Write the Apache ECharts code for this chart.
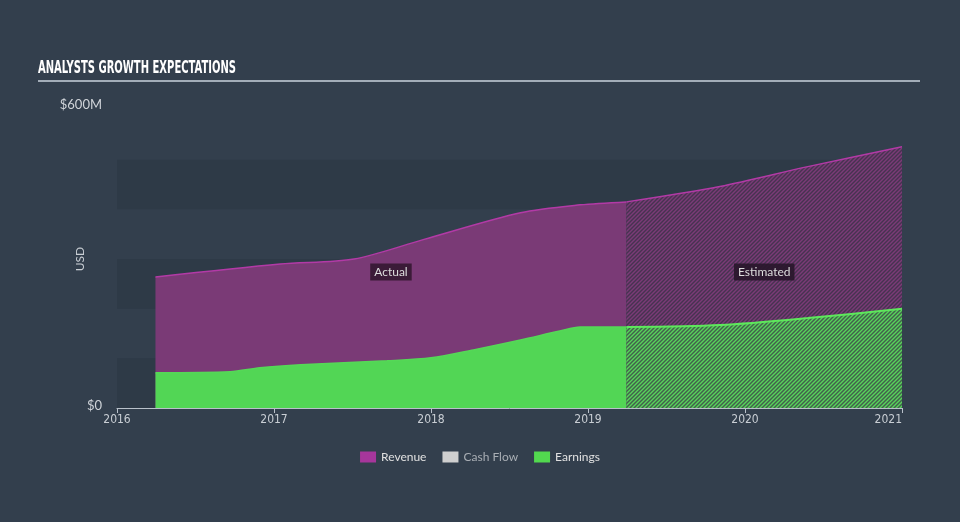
<!DOCTYPE html>
<html><head><meta charset="utf-8">
<script src="https://cdn.jsdelivr.net/npm/echarts@6/dist/echarts.min.js"></script>
<style>html,body{margin:0;padding:0;background:#333f4d}#c{width:960px;height:522px}</style>
</head><body><div id="c"></div>
<script>
// ---- data (values in $M, x in fractional years) ----
const yearTicks = [2016, 2017, 2018, 2019, 2020, 2021];
const revenueActualX = [2016.245, 2017.04, 2017.51, 2017.95, 2018.57, 2018.95, 2019.245];
const revenueActual  = [264, 290, 300, 339, 393, 409, 415];
const revenueEstX    = [2019.245, 2019.84, 2020.40, 2021.0];
const revenueEst     = [415, 446, 486, 526];
const earningsActualX = [2016.245, 2016.72, 2016.91, 2017.17, 2017.72, 2018.0, 2018.27, 2018.57, 2018.82, 2018.95, 2019.245];
const earningsActual  = [71, 73, 81, 87, 95, 101, 117, 137, 155, 163, 163];
const earningsEstX    = [2019.245, 2019.84, 2020.40, 2021.0];
const earningsEst     = [163, 167, 181, 200];
const titleText = 'ANALYSTS GROWTH EXPECTATIONS';
const labelActual = 'Actual';
const labelEstimated = 'Estimated';

function pairs(xs, ys){ return xs.map((x,i)=>[x, ys[i]]); }
function hatch(bg, fg){
  const c = document.createElement('canvas'); c.width = 4; c.height = 4;
  const g = c.getContext('2d');
  g.fillStyle = bg; g.fillRect(0,0,4,4);
  g.strokeStyle = fg; g.lineWidth = 1.4;
  g.beginPath();
  g.moveTo(0,4); g.lineTo(4,0);
  g.moveTo(-1,1); g.lineTo(1,-1);
  g.moveTo(3,5); g.lineTo(5,3);
  g.stroke();
  return c;
}
const revHatch = hatch('#7b3b77', '#463350');
const earnHatch = hatch('#42604c', '#58d45b');

const titleFont = 'bold 18px "DejaVu Sans Condensed", "DejaVu Sans", sans-serif';
const mc = document.createElement('canvas').getContext('2d');
mc.font = titleFont;
const titleScale = 198 / mc.measureText(titleText).width;

const chart = echarts.init(document.getElementById('c'), null, {renderer:'canvas'});
const lblStyle = {show:true, position:'inside', color:'#dddddd', fontSize:12, fontFamily:'Lato, "Noto Sans", sans-serif',
  backgroundColor:'rgba(52,24,50,0.9)', padding:[3,4,2,4]};
chart.setOption({
  backgroundColor:'#333f4d',
  animation:false,
  grid:{left:117, right:58, top:110, bottom:114},
  graphic:[
    {type:'text', x:38, y:68, scaleX:titleScale, scaleY:1,
      style:{text:titleText, fill:'#ffffff', font:titleFont, verticalAlign:'middle'}},
    {type:'rect', shape:{x:38, y:80, width:882, height:2}, style:{fill:'#a3adb8'}}
  ],
  legend:{
    top:446, left:'center', icon:'rect', itemWidth:16, itemHeight:11, itemGap:16,
    textStyle:{color:'#e0e0e0', fontSize:12, fontFamily:'Lato, "Noto Sans", sans-serif'},
    data:[
      {name:'Revenue', itemStyle:{color:'#a6369b'}},
      {name:'Cash Flow', itemStyle:{color:'#cfcfcf'}, textStyle:{color:'#a9aeb4'}},
      {name:'Earnings', itemStyle:{color:'#52d94f'}}
    ]
  },
  xAxis:{
    type:'value', min:2016, max:2021, interval:1,
    axisLine:{show:true, lineStyle:{color:'#b9c1ca', width:1}},
    axisTick:{show:true, length:5, lineStyle:{color:'#b9c1ca'}},
    axisLabel:{color:'#c9ced4', fontSize:12, margin:6, fontFamily:'"DejaVu Sans Condensed", sans-serif',
      formatter:v=>yearTicks.includes(v)?String(v):'', alignMaxLabel:'right'},
    splitLine:{show:false}
  },
  yAxis:{
    type:'value', min:0, max:600, interval:100,
    name:'USD', nameLocation:'middle', nameGap:31, nameRotate:90, nameMoveOverlap:false,
    nameTextStyle:{color:'#c9ced4', fontSize:12, fontFamily:'Lato, "Noto Sans", sans-serif'},
    axisLine:{show:false}, axisTick:{show:false},
    axisLabel:{color:'#d0d4d9', fontSize:13, margin:15, fontFamily:'Lato, "Noto Sans", sans-serif',
      formatter:v=>v===0?'{b|$0}':(v===600?'{t|$600M}':''),
      rich:{b:{padding:[0,0,4,0], fontSize:13, color:'#d0d4d9'}, t:{padding:[0,0,10,0], fontSize:13, color:'#d0d4d9'}}},
    splitLine:{show:false},
    splitArea:{show:true, areaStyle:{color:['#2e3a47','rgba(0,0,0,0)']}}
  },
  series:[
    {name:'Revenue', type:'line', data:pairs(revenueActualX, revenueActual), smooth:0.3, showSymbol:false,
      lineStyle:{color:'#b23aa6', width:1.5}, itemStyle:{color:'#a6369b'},
      areaStyle:{color:'#7a3a76', opacity:1},
      markPoint:{symbol:'rect', symbolSize:0, data:[{coord:[(revenueActualX[0]+revenueActualX[revenueActualX.length-1])/2, 274], value:labelActual}],
        label:Object.assign({formatter:labelActual}, lblStyle)}},
    {name:'Revenue', type:'line', data:pairs(revenueEstX, revenueEst), smooth:0.3, showSymbol:false,
      lineStyle:{color:'#b23aa6', width:1.5}, itemStyle:{color:'#a6369b'},
      areaStyle:{color:{image:revHatch, repeat:'repeat'}, opacity:1},
      markPoint:{symbol:'rect', symbolSize:0, data:[{coord:[(revenueEstX[0]+revenueEstX[revenueEstX.length-1])/2, 274], value:labelEstimated}],
        label:Object.assign({formatter:labelEstimated}, lblStyle, {backgroundColor:'rgba(40,22,42,0.9)'})}},
    {name:'Earnings', type:'line', data:pairs(earningsActualX, earningsActual), smooth:0.3, showSymbol:false,
      lineStyle:{color:'#55d857', width:1.5}, itemStyle:{color:'#52d94f'},
      areaStyle:{color:'#52d655', opacity:1}},
    {name:'Earnings', type:'line', data:pairs(earningsEstX, earningsEst), smooth:0.3, showSymbol:false,
      lineStyle:{color:'#5ee85c', width:2}, itemStyle:{color:'#52d94f'},
      areaStyle:{color:{image:earnHatch, repeat:'repeat'}, opacity:1}},
    {name:'Cash Flow', type:'line', data:[], itemStyle:{color:'#cfcfcf'}}
  ]
});
</script></body></html>
